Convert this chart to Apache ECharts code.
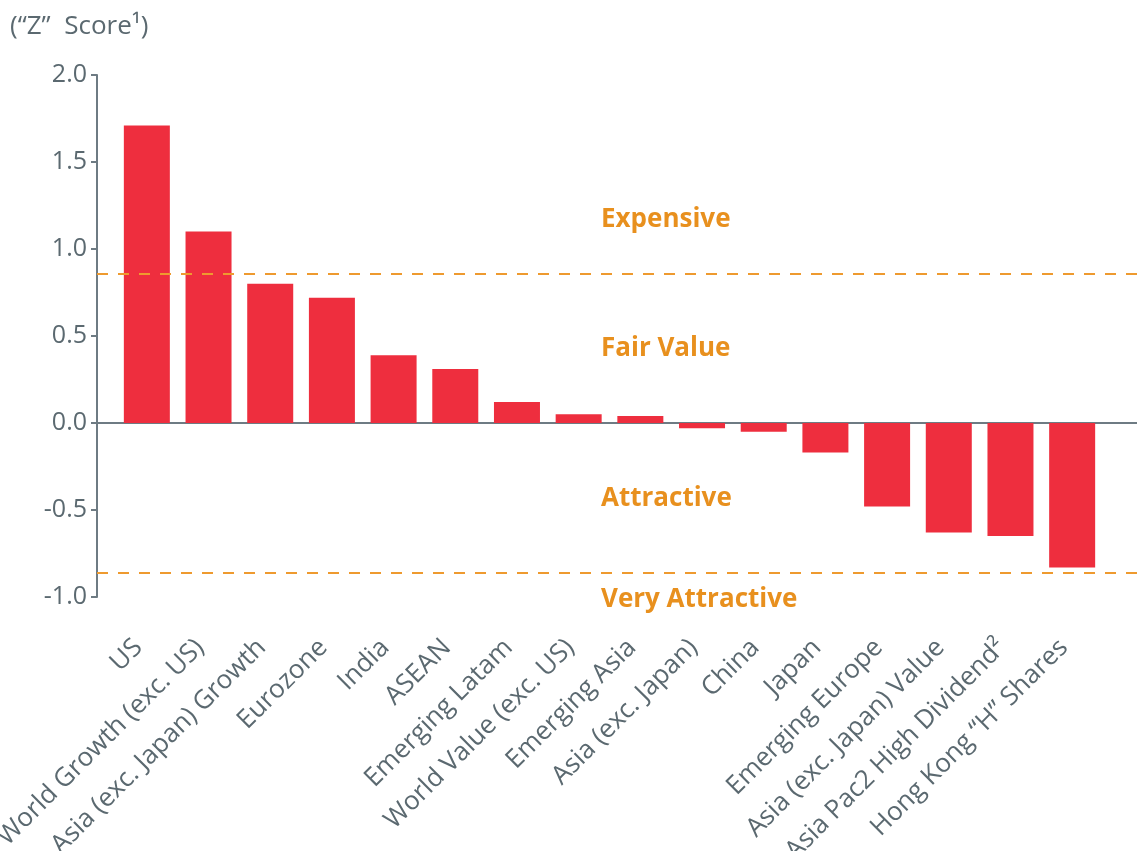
<!DOCTYPE html>
<html>
<head>
<meta charset="utf-8">
<script src="https://cdn.jsdelivr.net/npm/echarts@6/dist/echarts.min.js"></script>
<style>
	html, body { margin: 0; padding: 0; background: #fff; }
	#chartContainer { width: 1137px; height: 851px; }
</style>
</head>
<body>
<div id="chartContainer"></div>
<script>
var categories = ['US', 'World Growth (exc. US)', 'Asia (exc. Japan) Growth', 'Eurozone', 'India', 'ASEAN',
	'Emerging Latam', 'World Value (exc. US)', 'Emerging Asia', 'Asia (exc. Japan)', 'China', 'Japan',
	'Emerging Europe', 'Asia (exc. Japan) Value', 'Asia Pac2 High Dividend\u00b2', 'Hong Kong \u201cH\u201d Shares'];
var zScores = [1.71, 1.10, 0.80, 0.72, 0.39, 0.31, 0.12, 0.05, 0.04, -0.03, -0.05, -0.17, -0.48, -0.63, -0.65, -0.83];
var bandLines = [0.86, -0.86];
var bandNames = ['Expensive', 'Fair Value', 'Attractive', 'Very Attractive'];
var yTicks = { min: -1, max: 2, interval: 0.5 };

var grey = '#5b6970';
var axisGrey = '#6e7b83';
var orange = '#e8901e';
var font = "'Open Sans', sans-serif";

var option = null;

function initOption() {
	// text tops for the zone names
	var bandTops = [207, 336, 486, 587];
	option = {
		animation: false,
		textStyle: { fontFamily: font },
		title: {
			text: '(\u201cZ\u201d  Score\u00b9)',
			left: 5,
			top: 9,
			textStyle: { fontFamily: font, fontSize: 26, fontWeight: 'normal', color: grey }
		},
		grid: [
			{ left: 97, right: 0, top: 75, bottom: 254, outerBoundsMode: 'none', containLabel: false },
			{ left: 116, right: 34, top: 75, bottom: 254, outerBoundsMode: 'none', containLabel: false }
		],
		xAxis: [{
			gridIndex: 0,
			type: 'value',
			min: 0,
			max: 1,
			axisLine: { show: true, onZero: true, lineStyle: { color: axisGrey, width: 2 } },
			axisTick: { show: false },
			axisLabel: { show: false },
			splitLine: { show: false }
		}, {
			gridIndex: 1,
			type: 'category',
			data: categories,
			position: 'bottom',
			axisLine: { show: false, onZero: false },
			axisTick: { show: false },
			axisLabel: {
				interval: 0,
				rotate: 45,
				margin: 38,
				padding: [0, 12, 0, 0],
				color: grey,
				fontSize: 26,
				fontFamily: font
			}
		}],
		yAxis: [{
			gridIndex: 0,
			type: 'value',
			min: yTicks.min,
			max: yTicks.max,
			interval: yTicks.interval,
			axisLine: { show: true, lineStyle: { color: axisGrey, width: 2 } },
			axisTick: { show: true, inside: false, length: 6, lineStyle: { color: axisGrey, width: 2 } },
			axisLabel: {
				margin: 10,
				color: grey,
				fontSize: 25,
				fontFamily: font,
				formatter: function(v) { return v.toFixed(1); }
			},
			splitLine: { show: false }
		}, {
			gridIndex: 1,
			type: 'value',
			min: yTicks.min,
			max: yTicks.max,
			interval: yTicks.interval,
			show: false
		}],
		series: [{
			type: 'line',
			xAxisIndex: 0,
			yAxisIndex: 0,
			data: [],
			silent: true,
			markLine: {
				silent: true,
				symbol: 'none',
				label: { show: false },
				lineStyle: { color: '#ee9a2f', width: 2, type: [11, 10] },
				data: bandLines.map(function(v) { return { yAxis: v }; })
			}
		}, {
			type: 'bar',
			xAxisIndex: 1,
			yAxisIndex: 1,
			data: zScores,
			barWidth: 46,
			itemStyle: { color: '#ee2e3e' }
		}],
		graphic: bandNames.map(function(name, i) {
			return {
				type: 'text',
				left: 601,
				top: bandTops[i],
				style: {
					text: name,
					fill: orange,
					font: 'bold 26px ' + font
				}
			};
		})
	};
}

initOption();
var chart = echarts.init(document.getElementById('chartContainer'));
chart.setOption(option);
</script>
</body>
</html>
